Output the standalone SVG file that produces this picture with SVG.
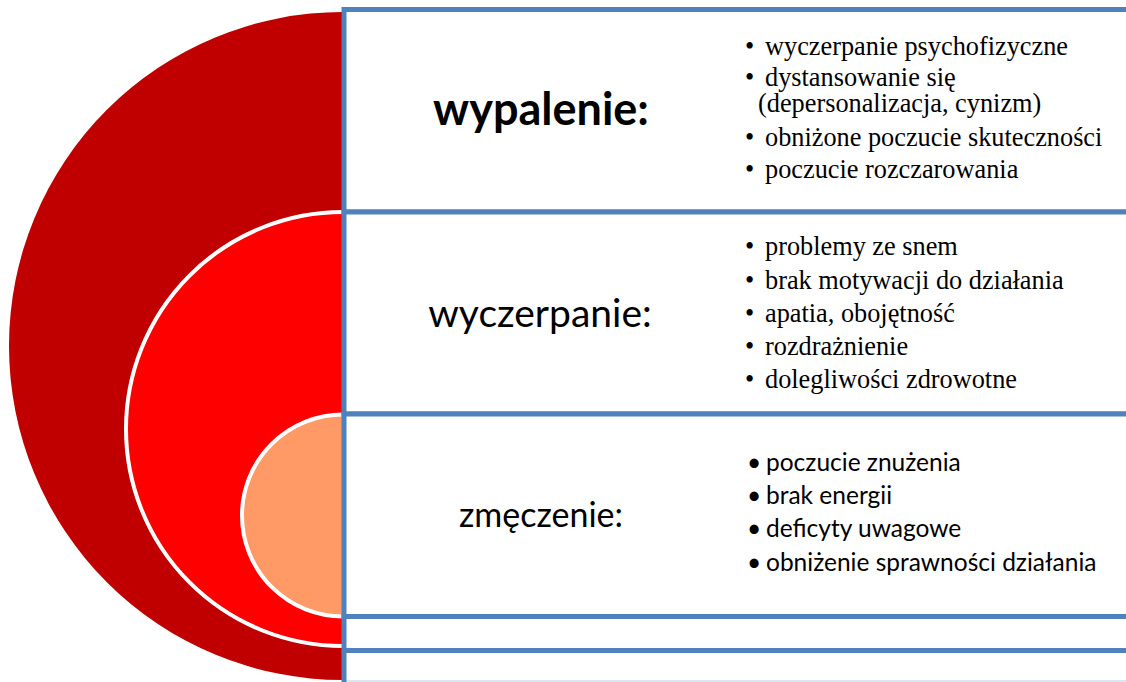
<svg xmlns="http://www.w3.org/2000/svg" width="1126" height="682" viewBox="0 0 1126 682">
<style>
.box{fill:#fff;stroke:#4F81BD;stroke-width:5}
.head{font-family:Lato,"Liberation Sans",sans-serif;fill:#000;text-anchor:middle}
.tnr{font-family:"Liberation Serif","Times New Roman",serif;font-size:26.3px;fill:#000}
.cal{font-family:Lato,"Liberation Sans",sans-serif;font-size:24.5px;fill:#000}
</style>
<defs>
<clipPath id="half"><rect x="0" y="0" width="343" height="682"/></clipPath>
</defs>
<rect width="1126" height="682" fill="#fff"/>
<g id="circles" clip-path="url(#half)">
<circle id="outer" cx="343" cy="346" r="334" fill="#C00000"/>
<circle id="middle" cx="343" cy="429" r="217" fill="#FF0000" stroke="#fff" stroke-width="4"/>
<circle id="inner" cx="343" cy="515.5" r="101" fill="#FF9966" stroke="#fff" stroke-width="4"/>
</g>
<line x1="346" y1="681" x2="1126" y2="681" stroke="#DCE6F2" stroke-width="2"/>
<g id="row-wypalenie">
<rect class="box" x="344" y="9.5" width="900" height="202.5"/>
<text class="head" x="541" y="125" font-size="45" font-weight="bold">wypalenie:</text>
<g class="tnr">
<text y="55"><tspan x="745">•</tspan><tspan x="765">wyczerpanie psychofizyczne</tspan></text>
<text y="86"><tspan x="745">•</tspan><tspan x="765">dystansowanie się</tspan></text>
<text x="758" y="112">(depersonalizacja, cynizm)</text>
<text y="146"><tspan x="745">•</tspan><tspan x="765">obniżone poczucie skuteczności</tspan></text>
<text y="178"><tspan x="745">•</tspan><tspan x="765">poczucie rozczarowania</tspan></text>
</g>
</g>
<g id="row-wyczerpanie">
<rect class="box" x="344" y="212" width="900" height="202"/>
<text class="head" x="540" y="327" font-size="39">wyczerpanie:</text>
<g class="tnr">
<text y="255"><tspan x="745">•</tspan><tspan x="765">problemy ze snem</tspan></text>
<text y="289"><tspan x="745">•</tspan><tspan x="765">brak motywacji do działania</tspan></text>
<text y="322"><tspan x="745">•</tspan><tspan x="765">apatia, obojętność</tspan></text>
<text y="355"><tspan x="745">•</tspan><tspan x="765">rozdrażnienie</tspan></text>
<text y="388"><tspan x="745">•</tspan><tspan x="765">dolegliwości zdrowotne</tspan></text>
</g>
</g>
<g id="row-zmeczenie">
<rect class="box" x="344" y="414" width="900" height="202.5"/>
<text class="head" x="541" y="527" font-size="34">zmęczenie:</text>
<g class="cal">
<text y="471"><tspan x="747">•</tspan><tspan x="766">poczucie znużenia</tspan></text>
<text y="504"><tspan x="747">•</tspan><tspan x="766">brak energii</tspan></text>
<text y="537"><tspan x="747">•</tspan><tspan x="766">deficyty uwagowe</tspan></text>
<text y="571"><tspan x="747">•</tspan><tspan x="766">obniżenie sprawności działania</tspan></text>
</g>
</g>
<g id="row-empty">
<rect class="box" x="344" y="616.5" width="900" height="34"/>
<line x1="344" y1="650.5" x2="344" y2="682" stroke="#4F81BD" stroke-width="5"/>
</g>
<g id="connectors"/>
</svg>
